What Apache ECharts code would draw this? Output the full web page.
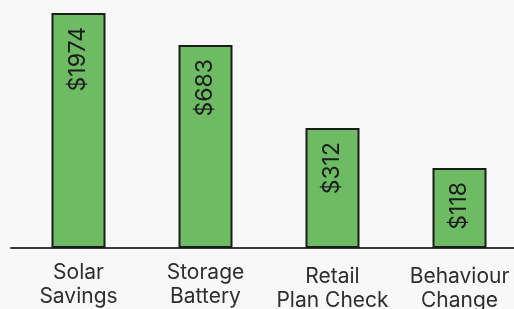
<!DOCTYPE html>
<html>
<head>
<meta charset="utf-8">
<script src="https://cdn.jsdelivr.net/npm/echarts@6/dist/echarts.min.js"></script>
<style>
html,body{margin:0;padding:0;background:#f8f8f8;}
#chart{width:514px;height:309px;}
</style>
</head>
<body>
<div id="chart"></div>
<script>
// Categories (two-line labels)
var categories = ['Solar\nSavings', 'Storage\nBattery', 'Retail\nPlan Check', 'Behaviour\nChange'];
// Annual savings shown as labels ($)
var savings = [1974, 683, 312, 118];
// Bar heights as drawn in the picture (relative units, axis hidden)
var barHeights = [235, 203, 120, 80];

// the last two category labels sit a little lower in the reference
var catData = categories.map(function (c, i) {
  return {value: c, textStyle: {padding: [i >= 2 ? 4 : 0, 0, 0, 0]}};
});

var chart = echarts.init(document.getElementById('chart'));
chart.setOption({
  backgroundColor: '#f8f8f8',
  animation: false,
  grid: [
    {left: 15, width: 508, top: 8, bottom: 61, outerBoundsMode: 'none', containLabel: false},
    {left: 11, right: 0, top: 8, bottom: 61, outerBoundsMode: 'none', containLabel: false}
  ],
  xAxis: [
    {
      type: 'category', gridIndex: 0, data: catData,
      axisLine: {show: false}, axisTick: {show: false},
      axisLabel: {color: '#2e2e2e', fontFamily: 'Inter', fontSize: 21, lineHeight: 24, margin: 13, interval: 0}
    },
    {
      type: 'value', gridIndex: 1, min: 0, max: 1,
      axisLine: {show: true, lineStyle: {color: '#3a3a3a', width: 2}},
      axisTick: {show: false}, axisLabel: {show: false}, splitLine: {show: false}
    }
  ],
  yAxis: [
    {type: 'value', gridIndex: 0, min: 0, max: 240, show: false},
    {type: 'value', gridIndex: 1, min: 0, max: 1, show: false}
  ],
  series: [{
    type: 'bar',
    xAxisIndex: 0, yAxisIndex: 0,
    data: barHeights,
    barWidth: 54,
    itemStyle: {color: '#6dbb63', borderColor: '#1c1c1c', borderWidth: 2},
    label: {
      show: true,
      position: 'insideTop',
      rotate: 90,
      align: 'right',
      verticalAlign: 'middle',
      distance: 14,
      color: '#1c1c1c',
      fontFamily: 'Inter',
      fontSize: 23,
      formatter: function (p) { return '$' + savings[p.dataIndex]; }
    }
  }]
});
</script>
</body>
</html>
